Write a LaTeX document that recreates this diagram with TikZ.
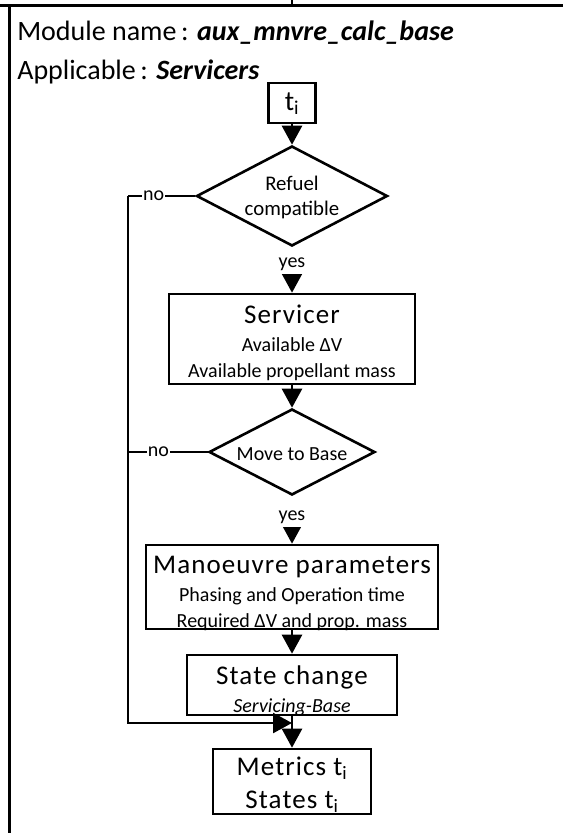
\documentclass[tikz,border=0pt]{standalone}
\usepackage{fontspec}
\setmainfont{Carlito}
\newfontfamily\spacedfont[LetterSpace=4]{Carlito}
\usetikzlibrary{shapes.geometric,arrows.meta}

\newcommand\largetxt{\spacedfont\fontsize{27}{30}\selectfont}
\newcommand\headtxt{\fontsize{28}{31}\selectfont}
\newcommand\smalltxt{\fontsize{20}{22}\selectfont}
\newcommand\decisiontxt{\fontsize{20.8}{23}\selectfont}

\begin{document}
\begin{tikzpicture}[x=1pt,y=-1pt,
  line width=2.6pt,
  box/.style={draw, rectangle, line width=2.6pt, inner sep=0pt},
  decision/.style={draw, diamond, line width=2.6pt, inner sep=0pt},
  flow/.style={-{Triangle[length=19pt,width=20pt]}, line width=2.6pt},
  notag/.style={fill=white, inner sep=1pt, font=\smalltxt},
  yestag/.style={fill=white, inner sep=1pt, font=\smalltxt, anchor=base},
  txt/.style={anchor=base, inner sep=0pt},
]
\useasboundingbox (0,0) rectangle (563,833);

% page frame
\draw[line width=3pt] (0,5) -- (563,5);
\draw[line width=3pt] (9,5) -- (9,833);
\draw[line width=2.6pt] (292,0) -- (292,5);

% heading
\node[txt, anchor=base west] (hname) at (16,40)
  {\headtxt Module name\,: \textbf{\textit{aux\_mnvre\_calc\_base}}};
\node[txt, anchor=base west] (happ) at (16,79)
  {\headtxt Applicable\,: \textbf{\textit{Servicers}}};

% boxes and decisions
\node[box, minimum width=47pt, minimum height=40pt] (ti) at (292,103) {};
\node[decision, minimum width=191pt, minimum height=100pt] (d1) at (292,196) {};
\node[box, minimum width=246pt, minimum height=90pt] (serv) at (292,339) {};
\node[decision, minimum width=166pt, minimum height=86pt] (d2) at (292,452) {};
\node[box, minimum width=292pt, minimum height=84pt] (mnv) at (292,587) {};
\node[box, minimum width=210pt, minimum height=60pt] (state) at (292,685) {};
\node[box, minimum width=158pt, minimum height=65pt] (out) at (292,781.5) {};

% texts
\node[txt] (tiT) at (292,110) {\headtxt t\textsubscript{i}};
\node[txt] (d1a) at (292,190) {\decisiontxt Refuel};
\node[txt] (d1b) at (292,215) {\decisiontxt compatible};
\node[txt] (servT) at (292,323) {\largetxt Servicer};
\node[txt] (servA) at (292,351) {\smalltxt Available ΔV};
\node[txt] (servB) at (292,377) {\smalltxt Available propellant mass};
\node[txt] (d2a) at (292,460) {\smalltxt Move to Base};
\node[txt] (mnvT) at (292,573) {\largetxt Manoeuvre parameters};
\node[txt] (mnvA) at (292,601) {\smalltxt Phasing and Operation time};
\node[txt] (mnvB) at (292,627) {\smalltxt Required ΔV and prop. mass};
\node[txt] (stateT) at (292,684) {\largetxt State change};
\node[txt] (stateA) at (292,712) {\smalltxt\itshape Servicing-Base};
\node[txt] (outA) at (292,775) {\largetxt Metrics t\textsubscript{i}};
\node[txt] (outB) at (292,808) {\largetxt States t\textsubscript{i}};

% connectors
\coordinate (n1) at (128,196);
\coordinate (n2) at (128,452);
\coordinate (join) at (292,723);

\draw[flow] (ti.south) -- (d1.north);
\draw[flow] (d1.south) -- node[yestag, pos=0.44, text height=19pt, text depth=6pt] (y1) {yes} (serv.north);
\draw[flow] (serv.south) -- (d2.north);
\draw[flow] (d2.south) -- node[yestag, pos=0.52, text height=24pt, text depth=5pt] (y2) {yes} (mnv.north);
\draw[flow] (mnv.south) -- (state.north);
\draw[flow] (state.south) -- (out.north);

\draw (d1.west) -- node[notag, pos=0.62] (no1) {no} (n1);
\draw (d2.west) -- node[notag, pos=0.62] (no2) {no} (n2);
\draw[flow] (n1) |- (join);
\end{tikzpicture}
\end{document}
